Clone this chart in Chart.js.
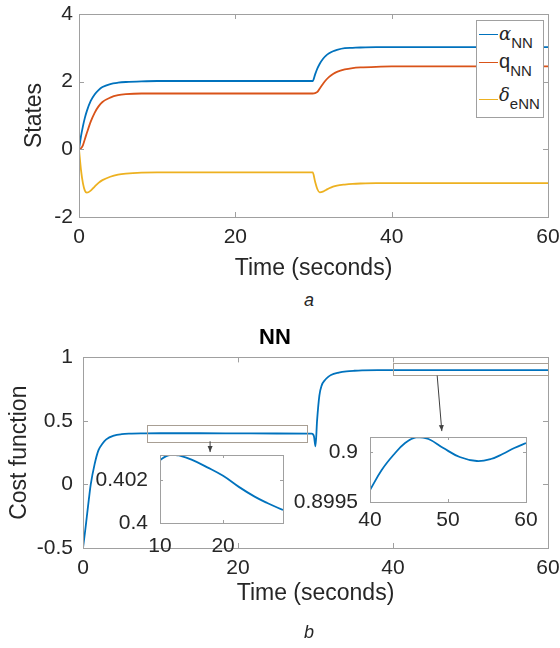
<!DOCTYPE html>
<html>
<head>
<meta charset="utf-8">
<script src="https://cdn.jsdelivr.net/npm/chart.js@4.4.0/dist/chart.umd.min.js"></script>
<style>
  body { margin: 0; background: #fff; }
  #wrap { position: relative; width: 560px; height: 648px; background: #fff;
          font-family: "Liberation Sans", Arial, sans-serif; color: #262626; }
  canvas { position: absolute; }
  .cap { position: absolute; font-style: italic; font-size: 18px; }
  #legend { position: absolute; left: 476px; top: 20px; width: 66px; height: 96px;
            border: 1px solid #a0a0a0; background: #fff; }
  .lline { position: absolute; left: 2px; width: 19px; height: 0; border-top: 1.5px solid; }
  .ltext { position: absolute; left: 22px; white-space: nowrap; font-size: 20px; line-height: 20px; }
  .greek { font-family: "DejaVu Serif", "Liberation Serif", serif; font-style: italic; font-size: 18px; }
  .ltext sub { font-size: 15px; vertical-align: -8px; }
</style>
</head>
<body>
<div id="wrap">
  <canvas id="stateChart" width="560" height="286" style="left:0;top:0"></canvas>
  <div class="cap" style="left:304px;top:290px">a</div>
  <canvas id="costChart" width="560" height="348" style="left:0;top:300px"></canvas>
  <canvas id="insetA" width="200" height="125" style="left:90px;top:440px"></canvas>
  <canvas id="insetB" width="270" height="125" style="left:280px;top:420px"></canvas>
  <div class="cap" style="left:304px;top:622px">b</div>
  <div id="legend">
    <div class="lline" style="top:13px;border-color:#0072BD"></div>
    <div class="ltext" style="top:2px"><span class="greek">α</span><sub>NN</sub></div>
    <div class="lline" style="top:41px;border-color:#D95319"></div>
    <div class="ltext" style="top:30px">q<sub>NN</sub></div>
    <div class="lline" style="top:78px;border-color:#EDB120"></div>
    <div class="ltext" style="top:63px"><span class="greek">δ</span><sub>eNN</sub></div>
  </div>
</div>
<script>
// time axis for the states (seconds)
const tState = [0, 0.25, 0.5, 0.75, 1, 1.5, 2, 2.5, 3, 4, 5, 6, 8, 10, 15, 20, 25, 29.9,
                30.2, 30.5, 30.8, 31.2, 31.6, 32, 32.5, 33, 34, 35, 36, 38, 40, 45, 50, 55, 60];
const alphaNN = [0, 0.38, 0.68, 0.93, 1.13, 1.43, 1.62, 1.75, 1.84, 1.93, 1.97, 1.99, 2.01, 2.02, 2.02, 2.02, 2.02, 2.02,
                 2.21, 2.39, 2.53, 2.67, 2.77, 2.84, 2.90, 2.94, 2.99, 3.0, 3.01, 3.02, 3.02, 3.02, 3.02, 3.02, 3.02];
const qNN = [0, 0.03, 0.12, 0.3, 0.48, 0.82, 1.08, 1.27, 1.4, 1.53, 1.6, 1.63, 1.65, 1.65, 1.65, 1.65, 1.65, 1.65,
             1.66, 1.7, 1.8, 1.93, 2.05, 2.14, 2.23, 2.29, 2.36, 2.4, 2.42, 2.44, 2.45, 2.45, 2.45, 2.45, 2.45];
const deltaNN = [0, -0.6, -1.0, -1.22, -1.28, -1.22, -1.1, -0.99, -0.91, -0.81, -0.75, -0.72, -0.69, -0.68, -0.68, -0.68, -0.68, -0.68,
                 -0.95, -1.18, -1.27, -1.25, -1.2, -1.15, -1.1, -1.07, -1.04, -1.02, -1.01, -1.0, -1.0, -1.0, -1.0, -1.0, -1.0];

// cost function
const tCost = [0, 0.25, 0.5, 0.75, 1, 1.5, 2, 2.5, 3, 4, 5, 6, 8, 10, 15, 20, 25, 29.5, 29.8,
               30.0, 30.2, 30.5, 30.8, 31.2, 31.6, 32, 33, 34, 35, 36, 38, 40, 45, 50, 55, 60];
const costNN = [-0.5, -0.38, -0.25, -0.12, 0.0, 0.16, 0.27, 0.32, 0.355, 0.385, 0.396, 0.4, 0.402, 0.403, 0.403, 0.402, 0.401, 0.4, 0.38,
                0.3, 0.5, 0.7, 0.78, 0.82, 0.845, 0.862, 0.88, 0.89, 0.895, 0.898, 0.8996, 0.8996, 0.9001, 0.9, 0.8999, 0.9001];

// zoomed insets
const tInsetA = [10, 11, 12, 13, 15, 17.5, 20, 22.5, 25, 27, 29.5];
const costInsetA = [0.40296, 0.40315, 0.40322, 0.40318, 0.40298, 0.40262, 0.40222, 0.4017, 0.40124, 0.40094, 0.40061];
const tInsetB = [40, 41.5, 43, 44.5, 46, 47.5, 49.4, 51.5, 53.7, 55.5, 57, 58.5, 60];
const costInsetB = [0.89962, 0.89982, 0.89997, 0.90009, 0.90015, 0.90013, 0.90004, 0.89995, 0.89991, 0.89993, 0.89998, 0.90004, 0.90009];

// tick labels
const timeTicks = [0, 20, 40, 60];
const stateTicks = [-2, 0, 2, 4];
const costTicks = [-0.5, 0, 0.5, 1];
const insetATimeTicks = [10, 20];
const insetACostTicks = [0.4, 0.402];
const insetBTimeTicks = [40, 50, 60];
const insetBCostTicks = [0.8995, 0.9];

Chart.defaults.font.family = '"Liberation Sans", Arial, sans-serif';
Chart.defaults.color = '#262626';

const toPoints = (xs, ys) => xs.map((x, i) => ({ x: x, y: ys[i] }));

// white plot box, frame and inward ticks like matlab
const framePlugin = {
  id: 'frame',
  beforeDatasetsDraw(chart) {
    const a = chart.chartArea, ctx = chart.ctx;
    ctx.save();
    ctx.fillStyle = '#fff';
    ctx.fillRect(a.left, a.top, a.right - a.left, a.bottom - a.top);
    ctx.restore();
  },
  afterDatasetsDraw(chart, args, opts) {
    const a = chart.chartArea, ctx = chart.ctx;
    const len = opts.len || 5;
    ctx.save();
    ctx.strokeStyle = '#a0a0a0';
    ctx.lineWidth = 1;
    ctx.beginPath();
    chart.scales.x.ticks.forEach(t => {
      const px = Math.round(chart.scales.x.getPixelForValue(t.value)) + 0.5;
      ctx.moveTo(px, a.bottom); ctx.lineTo(px, a.bottom - len);
      ctx.moveTo(px, a.top); ctx.lineTo(px, a.top + len);
    });
    chart.scales.y.ticks.forEach(t => {
      const py = Math.round(chart.scales.y.getPixelForValue(t.value)) + 0.5;
      ctx.moveTo(a.left, py); ctx.lineTo(a.left + len, py);
      ctx.moveTo(a.right, py); ctx.lineTo(a.right - len, py);
    });
    ctx.stroke();
    ctx.strokeRect(Math.round(a.left) + 0.5, Math.round(a.top) + 0.5,
                   Math.round(a.right - a.left), Math.round(a.bottom - a.top));
    ctx.restore();
  }
};

// zoom rectangles and arrows on the cost plot
const zoomRects = [
  { x0: 8.3, x1: 28.9, y0: 0.34, y1: 0.47, ax0: 16.4, ay0: 0.34, ax1: 16.4, ay1: 0.255 },
  { x0: 40, x1: 60, y0: 0.857, y1: 0.952, ax0: 45.7, ay0: 0.857, ax1: 46.3, ay1: 0.42 }
];
const zoomPlugin = {
  id: 'zoomMarks',
  afterDatasetsDraw(chart) {
    const ctx = chart.ctx, xs = chart.scales.x, ys = chart.scales.y;
    ctx.save();
    zoomRects.forEach(r => {
      const x0 = xs.getPixelForValue(r.x0), x1 = xs.getPixelForValue(r.x1);
      const y0 = ys.getPixelForValue(r.y0), y1 = ys.getPixelForValue(r.y1);
      ctx.strokeStyle = '#a89f94';
      ctx.lineWidth = 1;
      ctx.strokeRect(Math.round(x0) + 0.5, Math.round(y1) + 0.5, Math.round(x1 - x0), Math.round(y0 - y1));
      const sx = xs.getPixelForValue(r.ax0), sy = ys.getPixelForValue(r.ay0);
      const ex = xs.getPixelForValue(r.ax1), ey = ys.getPixelForValue(r.ay1);
      ctx.strokeStyle = '#404040';
      ctx.beginPath(); ctx.moveTo(sx, sy); ctx.lineTo(ex, ey); ctx.stroke();
      const ang = Math.atan2(ey - sy, ex - sx);
      ctx.fillStyle = '#404040';
      ctx.beginPath();
      ctx.moveTo(ex, ey);
      ctx.lineTo(ex - 6 * Math.cos(ang) + 2.5 * Math.sin(ang), ey - 6 * Math.sin(ang) - 2.5 * Math.cos(ang));
      ctx.lineTo(ex - 6 * Math.cos(ang) - 2.5 * Math.sin(ang), ey - 6 * Math.sin(ang) + 2.5 * Math.cos(ang));
      ctx.closePath(); ctx.fill();
    });
    ctx.restore();
  }
};

function axis(min, max, tickValues, size, pad, titleText, fmt) {
  return {
    type: 'linear', min: min, max: max,
    grid: { display: false, drawTicks: false },
    border: { display: false },
    afterBuildTicks: s => { s.ticks = tickValues.map(v => ({ value: v })); },
    afterFit: s => {
      // fixed axis sizes, no extra room for overhanging labels
      if (s.isHorizontal()) { s.height = size; s.paddingLeft = 0; s.paddingRight = 0; }
      else { s.width = size; s.paddingTop = 0; s.paddingBottom = 0; }
    },
    ticks: { font: { size: 21 }, color: '#262626', padding: pad, maxRotation: 0,
             callback: fmt || (v => String(v)) },
    title: titleText ? { display: true, text: titleText, font: { size: 23 }, color: '#262626',
                         padding: { top: 4, bottom: 4 } } : { display: false }
  };
}

function lineSet(xs, ys, color, smooth) {
  const ds = { data: toPoints(xs, ys), borderColor: color, borderWidth: 1.8, pointRadius: 0, fill: false };
  if (smooth) ds.tension = 0.4; else ds.cubicInterpolationMode = 'monotone';
  return ds;
}

const baseOpts = {
  responsive: false, animation: false,
  plugins: { legend: { display: false }, tooltip: { enabled: false } }
};

new Chart(document.getElementById('stateChart').getContext('2d'), {
  type: 'line',
  data: { datasets: [
    lineSet(tState, alphaNN, '#0072BD'),
    lineSet(tState, qNN, '#D95319'),
    lineSet(tState, deltaNN, '#EDB120')
  ] },
  options: Object.assign({}, baseOpts, {
    layout: { padding: { left: 17, right: 12, top: 14, bottom: 0 } },
    scales: {
      x: axis(0, 60, timeTicks, 69, 8, 'Time (seconds)'),
      y: axis(-2, 4, stateTicks, 62, 6, 'States')
    }
  }),
  plugins: [framePlugin]
});

new Chart(document.getElementById('costChart').getContext('2d'), {
  type: 'line',
  data: { datasets: [lineSet(tCost, costNN, '#0072BD')] },
  options: Object.assign({}, baseOpts, {
    layout: { padding: { left: 2, right: 12, top: 0, bottom: 37 } },
    plugins: {
      legend: { display: false }, tooltip: { enabled: false },
      title: { display: true, text: 'NN', color: '#000', font: { size: 22, weight: 'bold' },
               padding: { top: 25, bottom: 6 } }
    },
    scales: {
      x: axis(0, 60, timeTicks, 63, 8, 'Time (seconds)'),
      y: axis(-0.5, 1, costTicks, 81, 10, 'Cost function')
    }
  }),
  plugins: [framePlugin, zoomPlugin]
});

new Chart(document.getElementById('insetA').getContext('2d'), {
  type: 'line',
  data: { datasets: [lineSet(tInsetA, costInsetA, '#0072BD', true)] },
  options: Object.assign({}, baseOpts, {
    layout: { padding: { left: 0, right: 7, top: 15, bottom: 0 } },
    plugins: { legend: { display: false }, tooltip: { enabled: false }, frame: { len: 3 } },
    scales: {
      x: axis(10, 29.5, insetATimeTicks, 42, 11),
      y: axis(0.4, 0.4032, insetACostTicks, 70, 12)
    }
  }),
  plugins: [framePlugin]
});

new Chart(document.getElementById('insetB').getContext('2d'), {
  type: 'line',
  data: { datasets: [lineSet(tInsetB, costInsetB, '#0072BD', true)] },
  options: Object.assign({}, baseOpts, {
    layout: { padding: { left: 0, right: 24, top: 17, bottom: 0 } },
    plugins: { legend: { display: false }, tooltip: { enabled: false }, frame: { len: 3 } },
    scales: {
      x: axis(40, 60, insetBTimeTicks, 43, 6),
      y: axis(0.8995, 0.90015, insetBCostTicks, 90, 12)
    }
  }),
  plugins: [framePlugin]
});
</script>
</body>
</html>
